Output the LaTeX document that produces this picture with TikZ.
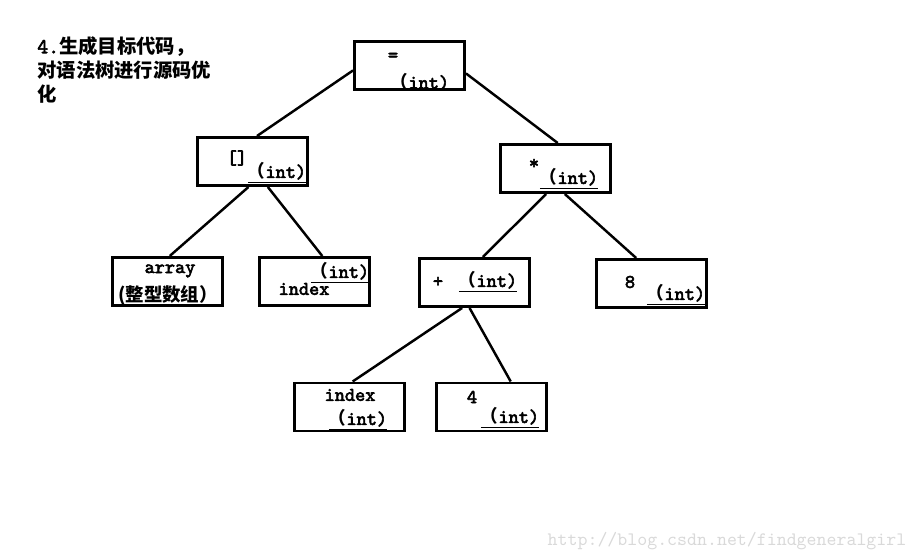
\documentclass[tikz,border=0pt]{standalone}
\usepackage{fontspec}
\setmonofont[AutoFakeBold=3]{Latin Modern Mono}
\newfontfamily\cjk{Noto Sans CJK SC}
\usepackage{tikz}
\newcommand{\tyint}{{\cjk\fontsize{10}{12}\selectfont （}int)}
\newcommand{\utyint}{\underline{\tyint}}

\begin{document}
\begin{tikzpicture}[x=0.02cm,y=-0.02cm,
	box/.style={draw,line width=1.7pt,minimum width=2.2cm,minimum height=0.96cm,inner sep=0pt},
	lbl/.style={font=\ttfamily\bfseries\fontsize{11}{13}\selectfont,inner sep=0pt},
	edge/.style={line width=1.4pt}]
	\useasboundingbox (0,0) rectangle (919,560);
	\node[anchor=north west,align=left,inner sep=0pt,font=\cjk\bfseries\fontsize{11}{13.7}\selectfont] (title) at (37,36)
		{{\ttfamily\bfseries\fontsize{12}{13.7}\selectfont 4.}生成目标代码，\\对语法树进行源码优\\化};
	% boxes
	\node[box] (eq)     at (409.5,65.5) {};
	\node[box] (br)     at (252.5,161.5) {};
	\node[box] (star)   at (555.5,168.5) {};
	\node[box] (array)  at (167.5,281.5) {};
	\node[box] (index1) at (314.5,281.5) {};
	\node[box] (plus)   at (474.5,282.5) {};
	\node[box] (eight)  at (651.5,283.5) {};
	\node[box] (index2) at (349.5,407) {};
	\node[box] (four)   at (491.5,407) {};
	% labels
	\node[lbl] (eqop)    at (393,57)  {=};
	\node[lbl] (eqty)    at (420,82)  {\tyint};
	\node[lbl] (brop)    at (237,158) {[]};
	\node[lbl] (brty)    at (277,173) {\utyint};
	\node[lbl] (starop)  at (534,164) {*};
	\node[lbl] (starty)  at (569,179) {\utyint};
	\node[lbl] (arrname) at (170,271) {array};
	\node[lbl,font=\cjk\bfseries\fontsize{10.5}{12}\selectfont] (arrty) at (168,295) {(整型数组）};
	\node[lbl] (i1ty)    at (340,273) {\utyint};
	\node[lbl] (i1name)  at (304,289) {index};
	\node[lbl] (plusop)  at (438,282) {+};
	\node[lbl] (plusty)  at (488,282) {\utyint};
	\node[lbl] (eightv)  at (630,282) {8};
	\node[lbl] (eightty) at (676,295) {\utyint};
	\node[lbl] (i2name)  at (350,395) {index};
	\node[lbl] (i2ty)    at (358,420) {\utyint};
	\node[lbl] (fourv)   at (472,397) {4};
	\node[lbl] (fourty)  at (510,418) {\utyint};
	% tree edges
	\draw[edge] (eq.185)   -- (br.80);
	\draw[edge] (eq.352)   -- (star.85);
	\draw[edge] (br.261)   -- (array.85);
	\draw[edge] (br.301)   -- (index1.73);
	\draw[edge] (star.250) -- (plus.72);
	\draw[edge] (star.290) -- (eight.121);
	\draw[edge] (plus.244) -- (index2.83);
	\draw[edge] (plus.259) -- (four.53);
	\node[font=\ttfamily\fontsize{10.8}{12}\selectfont,text=black!15,inner sep=0pt] (mark) at (727,541)
		{http://blog.csdn.net/findgeneralgirl};
\end{tikzpicture}
\end{document}
